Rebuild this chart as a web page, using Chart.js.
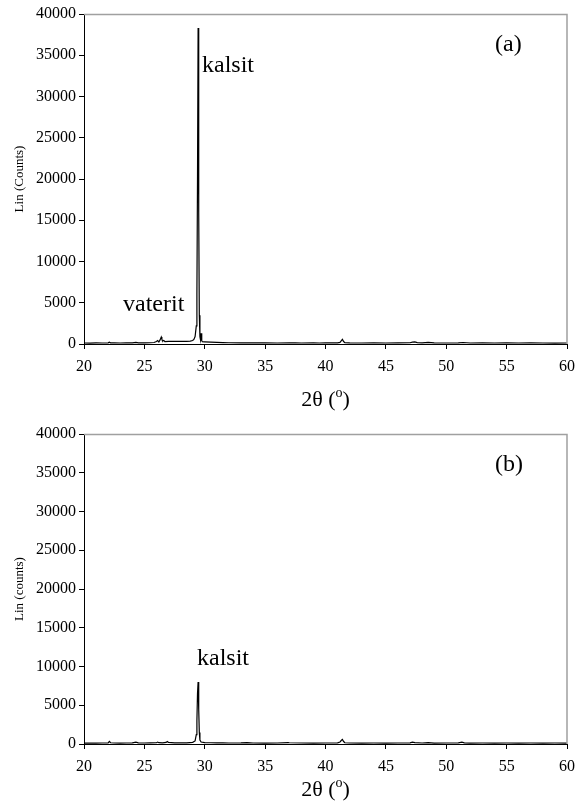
<!DOCTYPE html>
<html>
<head>
<meta charset="utf-8">
<script src="https://cdn.jsdelivr.net/npm/chart.js@4"></script>
<style>
  html, body { margin: 0; padding: 0; background: #fff; }
  body { width: 584px; height: 802px; position: relative; overflow: hidden; }
  canvas { position: absolute; left: 0; }
  #ca { top: 0; }
  #cb { top: 420px; }
</style>
</head>
<body>
<canvas id="ca" width="584" height="420"></canvas>
<canvas id="cb" width="584" height="382"></canvas>
<script>
// ---- data ----
const xTicks = [20, 25, 30, 35, 40, 45, 50, 55, 60];
const yTicks = [0, 5000, 10000, 15000, 20000, 25000, 30000, 35000, 40000];

const thetaA = [20, 20.5, 21, 21.5, 22, 22.1, 22.2, 22.5, 23, 23.5, 24, 24.3, 24.5, 25, 25.5, 25.8, 26.0, 26.1, 26.2, 26.3, 26.4, 26.45, 26.5, 26.6, 26.7, 27, 27.5, 28, 28.5, 28.8, 29.0, 29.1, 29.2, 29.3, 29.35, 29.4, 29.45, 29.5, 29.55, 29.6, 29.65, 29.7, 29.75, 29.8, 30, 30.5, 31, 31.5, 32, 33, 34, 35, 36, 37, 37.5, 38, 39, 39.5, 40, 41, 41.2, 41.3, 41.4, 41.5, 41.6, 42, 43, 44, 45, 46, 47, 47.2, 47.4, 47.6, 48, 48.5, 49, 50, 51, 51.4, 52, 53, 54, 55, 56, 57, 58, 59, 60];
const countsA = [120, 110, 130, 120, 140, 220, 140, 130, 120, 140, 130, 200, 140, 130, 150, 180, 300, 420, 250, 500, 850, 600, 350, 420, 300, 320, 330, 320, 330, 350, 420, 550, 900, 2200, 6000, 20000, 38300, 16000, 3500, 900, 500, 1300, 400, 280, 260, 220, 190, 170, 150, 140, 130, 140, 120, 150, 130, 120, 130, 120, 130, 140, 200, 380, 560, 300, 170, 130, 120, 130, 120, 130, 150, 220, 260, 160, 140, 200, 130, 120, 130, 180, 120, 130, 120, 130, 120, 130, 120, 110, 120];

const thetaB = [20, 20.5, 21, 21.5, 22, 22.1, 22.2, 22.5, 23, 23.5, 24, 24.3, 24.5, 25, 25.5, 26, 26.1, 26.2, 26.5, 26.8, 26.9, 27.0, 27.5, 28, 28.5, 29.0, 29.2, 29.3, 29.35, 29.4, 29.45, 29.5, 29.55, 29.6, 29.7, 30, 30.5, 31, 31.5, 32, 33, 33.5, 34, 35, 36, 36.9, 37, 38, 39, 40, 41, 41.2, 41.3, 41.4, 41.5, 41.6, 42, 43, 44, 45, 46, 47, 47.2, 47.4, 48, 48.5, 49, 50, 51, 51.3, 51.5, 52, 53, 54, 55, 56, 57, 58, 59, 60];
const countsB = [120, 130, 120, 130, 150, 330, 160, 130, 120, 130, 140, 250, 150, 130, 140, 160, 250, 170, 150, 200, 320, 200, 150, 140, 150, 220, 400, 1200, 3000, 6500, 8000, 4500, 1500, 500, 250, 180, 160, 150, 140, 130, 140, 180, 130, 120, 130, 190, 160, 130, 120, 130, 140, 250, 450, 600, 320, 160, 130, 120, 130, 120, 130, 150, 230, 180, 130, 180, 120, 130, 140, 230, 150, 120, 130, 120, 130, 120, 130, 120, 130, 120];

const FONT = "'Liberation Serif', 'Times New Roman', serif";

function toPoints(xs, ys) { return xs.map((x, i) => ({ x: x, y: ys[i] })); }

function makeChart(id, xs, ys, cfg) {
  const decor = {
    id: 'decor',
    afterDraw(chart) {
      const ctx = chart.ctx, a = chart.chartArea;
      ctx.save();
      ctx.strokeStyle = '#a0a0a0';
      ctx.lineWidth = 1.5;
      ctx.beginPath();
      ctx.moveTo(a.left, a.top + 0.5);
      ctx.lineTo(a.right, a.top + 0.5);
      ctx.lineTo(a.right, a.bottom);
      ctx.stroke();
      ctx.fillStyle = '#000';
      const cx = (a.left + a.right) / 2;
      ctx.textBaseline = 'alphabetic';
      const p1 = '2\u03b8 (', sup = 'o', p2 = ')';
      ctx.font = '22px ' + FONT; const w1 = ctx.measureText(p1).width, w3 = ctx.measureText(p2).width;
      ctx.font = '14px ' + FONT; const w2 = ctx.measureText(sup).width;
      let x0 = cx - (w1 + w2 + w3) / 2;
      const by = cfg.titleY;
      ctx.font = '22px ' + FONT; ctx.textAlign = 'left';
      ctx.fillText(p1, x0, by);
      ctx.font = '14px ' + FONT;
      ctx.fillText(sup, x0 + w1, by - 9);
      ctx.font = '22px ' + FONT;
      ctx.fillText(p2, x0 + w1 + w2, by);
      ctx.save();
      ctx.translate(cfg.yTitleX, (a.top + a.bottom) / 2);
      ctx.rotate(-Math.PI / 2);
      ctx.font = '13px ' + FONT;
      ctx.textAlign = 'center';
      ctx.textBaseline = 'middle';
      ctx.fillText(cfg.yTitle, 0, 0);
      ctx.restore();
      ctx.font = '24px ' + FONT;
      ctx.textAlign = 'left';
      ctx.textBaseline = 'alphabetic';
      cfg.labels.forEach(l => ctx.fillText(l.text, l.x, l.y));
      ctx.restore();
    }
  };
  return new Chart(document.getElementById(id), {
    type: 'line',
    data: {
      datasets: [{
        data: toPoints(xs, ys),
        borderColor: '#000',
        borderWidth: 1.2,
        pointRadius: 0,
        tension: 0,
        fill: false
      }]
    },
    options: {
      responsive: false,
      animation: false,
      events: [],
      layout: { padding: { top: cfg.padTop, right: 17, left: 0, bottom: 0 } },
      plugins: { legend: { display: false }, tooltip: { enabled: false } },
      scales: {
        x: {
          type: 'linear', min: 20, max: 60,
          afterBuildTicks: s => { s.ticks = xTicks.map(v => ({ value: v })); },
          afterFit: s => { s.height = cfg.xAxisH; },
          ticks: { color: '#000', font: { family: FONT, size: 16 }, padding: 8, maxRotation: 0, callback: v => String(v) },
          grid: { display: true, drawOnChartArea: false, drawTicks: true, tickLength: 5, tickColor: '#000', color: '#000' },
          border: { display: true, color: '#000', width: 1 }
        },
        y: {
          type: 'linear', min: 0, max: 40000,
          afterBuildTicks: s => { s.ticks = yTicks.map(v => ({ value: v })); },
          afterFit: s => { s.width = 84; },
          ticks: { color: '#000', font: { family: FONT, size: 16 }, padding: 3, callback: v => String(v) },
          grid: { display: true, drawOnChartArea: false, drawTicks: true, tickLength: 5, tickColor: '#000', color: '#000' },
          border: { display: true, color: '#000', width: 1 }
        }
      }
    },
    plugins: [decor]
  });
}

makeChart('ca', thetaA, countsA, {
  padTop: 14, xAxisH: 420 - 344, titleY: 406, yTitleX: 20, yTitle: 'Lin (Counts)',
  labels: [
    { text: 'kalsit', x: 202, y: 72 },
    { text: 'vaterit', x: 123, y: 311 },
    { text: '(a)', x: 495, y: 51 }
  ]
});

makeChart('cb', thetaB, countsB, {
  padTop: 14, xAxisH: 382 - 324, titleY: 376, yTitleX: 20, yTitle: 'Lin (counts)',
  labels: [
    { text: 'kalsit', x: 197, y: 245 },
    { text: '(b)', x: 495, y: 51 }
  ]
});
</script>
</body>
</html>
